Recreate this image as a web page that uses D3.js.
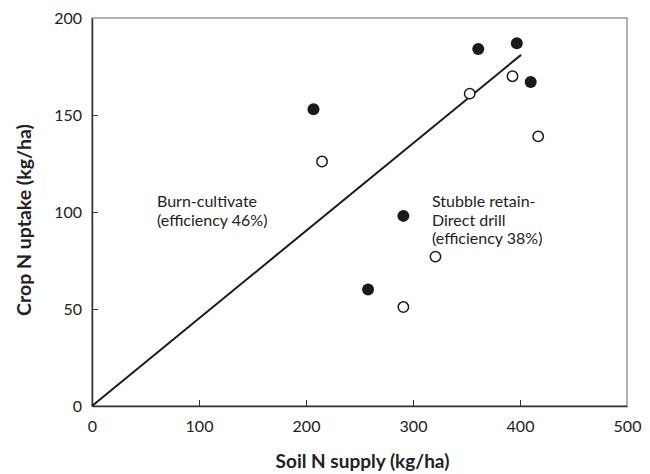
<!DOCTYPE html>
<html>
<head>
<meta charset="utf-8">
<script src="https://cdn.jsdelivr.net/npm/d3@7"></script>
<style>
  body { margin: 0; background: #fff; }
  svg { font-family: Lato, "Open Sans", sans-serif; }
</style>
</head>
<body>
<div id="chart"></div>
<script>
// burn-cultivate (filled) and stubble retain / direct drill (open)
const burnX = [361, 397, 410, 207, 291, 258];
const burnY = [184, 187, 167, 153, 98, 60];
const directX = [353, 393, 417, 215, 321, 291];
const directY = [161, 170, 139, 126, 77, 51];
// fitted line
const fitX = [0, 401];
const fitY = [0, 181];
const xTicks = [0, 100, 200, 300, 400, 500];
const yTicks = [0, 50, 100, 150, 200];

const width = 650, height = 474;
const margin = { top: 18, right: 23, bottom: 68, left: 92 };
const w = width - margin.left - margin.right,
      h = height - margin.top - margin.bottom;

const svg = d3.select('#chart').append('svg')
    .attr('width', width)
    .attr('height', height);

const g = svg.append('g')
    .attr('transform', `translate(${margin.left},${margin.top})`);

const x = d3.scaleLinear().domain([0, 500]).range([0, w]);
const y = d3.scaleLinear().domain([0, 200]).range([h, 0]);

// frame
g.append('rect')
    .attr('width', w).attr('height', h)
    .attr('fill', 'none')
    .attr('stroke', '#666')
    .attr('stroke-width', 1);

// axes with inward ticks
const xAxis = g.append('g')
    .attr('transform', `translate(0,${h})`)
    .call(d3.axisBottom(x).tickValues(xTicks).tickSizeInner(-6).tickSizeOuter(0).tickPadding(15));
const yAxis = g.append('g')
    .call(d3.axisLeft(y).tickValues(yTicks).tickSizeInner(-6).tickSizeOuter(0).tickPadding(10));

[xAxis, yAxis].forEach(a => {
    a.select('.domain').attr('stroke', '#333').attr('stroke-width', 1.5);
    a.selectAll('.tick line').attr('stroke', '#333');
    a.selectAll('.tick text')
        .attr('font-size', 16)
        .attr('fill', '#222')
        .style('font-family', 'Lato, sans-serif');
});
xAxis.selectAll('.tick').filter(d => d === 0 || d === 500).select('line').remove();
yAxis.selectAll('.tick').filter(d => d === 0 || d === 200).select('line').remove();

// fitted line
const fit = fitX.map((d, i) => [d, fitY[i]]);
g.append('path')
    .datum(fit)
    .attr('d', d3.line().x(d => x(d[0])).y(d => y(d[1])))
    .attr('fill', 'none')
    .attr('stroke', '#1a1a1a')
    .attr('stroke-width', 2);

// points
g.selectAll('.burn')
    .data(burnX.map((d, i) => [d, burnY[i]]))
    .enter().append('circle')
    .attr('class', 'burn')
    .attr('cx', d => x(d[0])).attr('cy', d => y(d[1]))
    .attr('r', 6)
    .attr('fill', '#1a1a1a');

g.selectAll('.direct')
    .data(directX.map((d, i) => [d, directY[i]]))
    .enter().append('circle')
    .attr('class', 'direct')
    .attr('cx', d => x(d[0])).attr('cy', d => y(d[1]))
    .attr('r', 5.2)
    .attr('fill', '#fff')
    .attr('stroke', '#1a1a1a')
    .attr('stroke-width', 1.5);

// annotations
function label(lines, px, py) {
    const t = svg.append('text')
        .attr('x', px).attr('y', py)
        .attr('font-size', 16)
        .attr('fill', '#222');
    lines.forEach((s, i) => {
        t.append('tspan').attr('x', px).attr('dy', i === 0 ? 0 : 18.5).text(s);
    });
}
label(['Burn-cultivate', '(efficiency 46%)'], 157, 207);
label(['Stubble retain-', 'Direct drill', '(efficiency 38%)'], 432, 207);

// axis titles
svg.append('text')
    .attr('x', margin.left + w / 2 + 3)
    .attr('y', 468)
    .attr('text-anchor', 'middle')
    .attr('font-size', 19)
    .attr('font-weight', 'bold')
    .attr('fill', '#222')
    .text('Soil N supply (kg/ha)');

svg.append('text')
    .attr('transform', 'translate(31,220) rotate(-90)')
    .attr('text-anchor', 'middle')
    .attr('font-size', 19.5)
    .attr('font-weight', 'bold')
    .attr('fill', '#222')
    .text('Crop N uptake (kg/ha)');
</script>
</body>
</html>
